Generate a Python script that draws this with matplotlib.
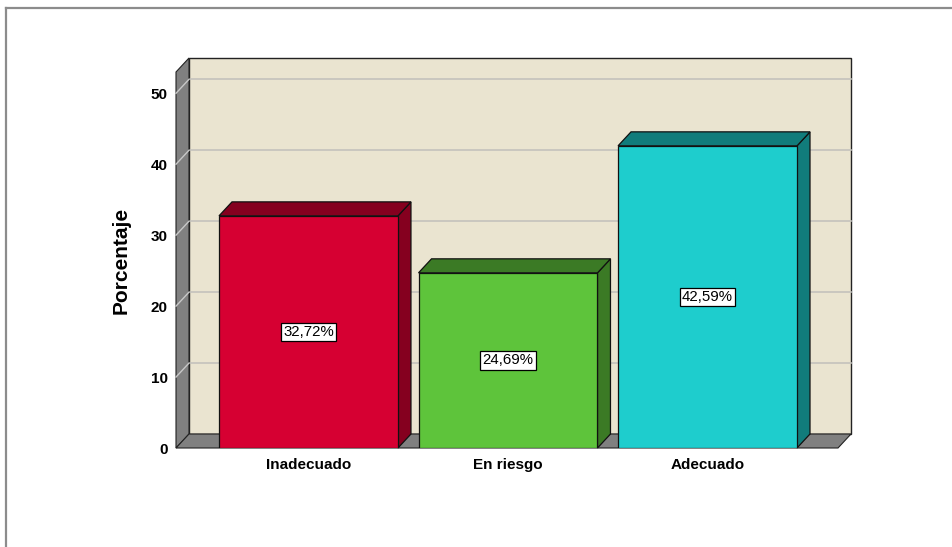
import matplotlib
matplotlib.use("Agg")
import matplotlib.pyplot as plt
from matplotlib.patches import Polygon
from matplotlib.lines import Line2D

categorias = ["Inadecuado", "En riesgo", "Adecuado"]
porcentajes = [32.72, 24.69, 42.59]
ticks_y = [0, 10, 20, 30, 40, 50]

colores = ["#D60032", "#5EC43B", "#1ECDCD"]
colores_osc = ["#85001F", "#3B7A25", "#117C7B"]

plt.rcParams["font.family"] = ["Liberation Sans", "DejaVu Sans"]

W, H = 953, 547
fig = plt.figure(figsize=(W / 100, H / 100), dpi=100)

# marco exterior
fig.add_artist(Line2D([6 / W, 1], [1 - 8 / H, 1 - 8 / H], color="#8c8c8c", lw=1.6))
fig.add_artist(Line2D([6 / W, 6 / W], [0, 1 - 8 / H], color="#8c8c8c", lw=1.6))

# plano frontal del grafico en pixeles
px_izq, px_der, px_abajo, px_arriba = 176, 838, 448, 72
ax = fig.add_axes([px_izq / W, 1 - px_abajo / H,
                   (px_der - px_izq) / W, (px_abajo - px_arriba) / H])
xmin, xmax = -0.664, 2.654
ymin, ymax = 0, 53
ax.set_xlim(xmin, xmax)
ax.set_ylim(ymin, ymax)

# profundidad 3D en pixeles -> unidades de datos
prof_x, prof_y = 13, 14
ddx = prof_x * (xmax - xmin) / (px_der - px_izq)
ddy = prof_y * (ymax - ymin) / (px_abajo - px_arriba)

# pared del fondo
ax.add_patch(Polygon([(xmin + ddx, ddy), (xmax + ddx, ddy),
                      (xmax + ddx, ymax + ddy), (xmin + ddx, ymax + ddy)],
                     closed=True, facecolor="#EAE4D0", edgecolor="#222222",
                     lw=1.0, clip_on=False, zorder=1))
for t in ticks_y[1:]:
    ax.plot([xmin + ddx, xmax + ddx], [t + ddy, t + ddy], color="#C4C2BC",
            lw=1.2, clip_on=False, zorder=1.5)

# pared izquierda
ax.add_patch(Polygon([(xmin, 0), (xmin + ddx, ddy), (xmin + ddx, ymax + ddy),
                      (xmin, ymax)], closed=True, facecolor="#808080",
                     edgecolor="#222222", lw=0.8, clip_on=False, zorder=2))
for t in ticks_y[1:]:
    ax.plot([xmin, xmin + ddx], [t, t + ddy], color="#C8C8C8", lw=1.0,
            clip_on=False, zorder=2.5)

# piso
ax.add_patch(Polygon([(xmin, 0), (xmax, 0), (xmax + ddx, ddy), (xmin + ddx, ddy)],
                     closed=True, facecolor="#808080", edgecolor="#222222",
                     lw=0.8, clip_on=False, zorder=2))

# barras con caras lateral y superior
ancho = 0.897
xs = list(range(len(categorias)))
ax.bar(xs, porcentajes, width=ancho, color=colores, edgecolor="#111111",
       lw=0.9, zorder=4)
for x, v, c in zip(xs, porcentajes, colores_osc):
    der = x + ancho / 2
    izq = x - ancho / 2
    ax.add_patch(Polygon([(der, 0), (der + ddx, ddy), (der + ddx, v + ddy), (der, v)],
                         closed=True, facecolor=c, edgecolor="#111111", lw=0.9,
                         clip_on=False, zorder=3.5))
    ax.add_patch(Polygon([(izq, v), (der, v), (der + ddx, v + ddy), (izq + ddx, v + ddy)],
                         closed=True, facecolor=c, edgecolor="#111111", lw=0.9,
                         clip_on=False, zorder=3.5))
    ax.text(x, v / 2, f"{v:.2f}%".replace(".", ","), ha="center", va="center",
            fontsize=10.8, zorder=6,
            bbox=dict(boxstyle="square,pad=0.15", facecolor="white",
                      edgecolor="black", lw=0.9))

for s in ax.spines.values():
    s.set_visible(False)
ax.set_facecolor("none")
ax.set_xticks(xs)
ax.set_xticklabels(categorias, fontsize=11, fontweight="bold")
ax.set_yticks(ticks_y)
ax.set_yticklabels([str(t) for t in ticks_y], fontsize=11, fontweight="bold")
ax.tick_params(axis="both", length=0)
ax.tick_params(axis="y", pad=6)
ax.tick_params(axis="x", pad=7)
ax.set_ylabel("Porcentaje", fontsize=15, fontweight="bold")
ax.yaxis.set_label_coords(-0.068, 0.5)

fig.savefig("out.png", dpi=100, facecolor="white")
